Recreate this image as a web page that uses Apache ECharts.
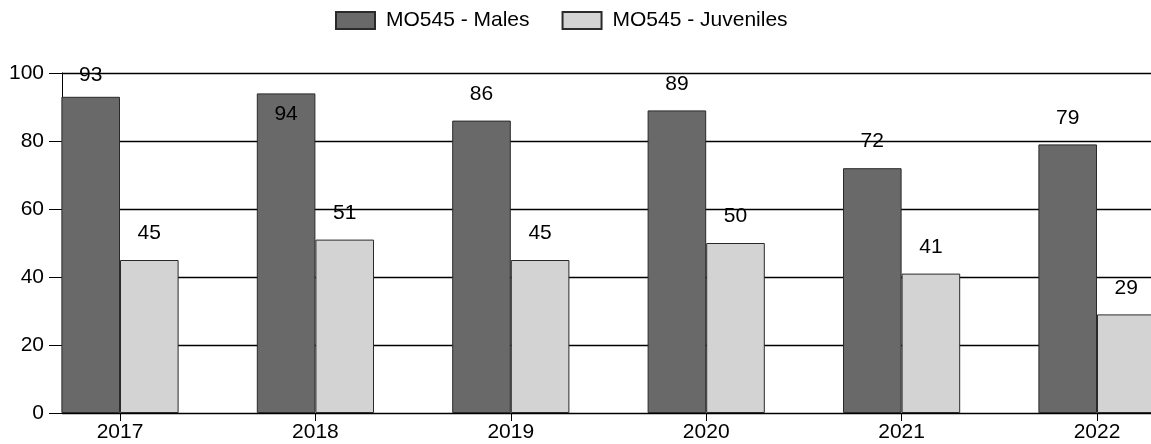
<!DOCTYPE html>
<html><head><meta charset="utf-8">
<script src="https://cdn.jsdelivr.net/npm/echarts@6/dist/echarts.min.js"></script>
<style>html,body{margin:0;padding:0;background:#fff}#c{width:1151px;height:444px}</style>
</head><body><div id="c"></div>
<script>
const categories = ['2017','2018','2019','2020','2021','2022'];
const males = [93, 94, 86, 89, 72, 79];
const juveniles = [45, 51, 45, 50, 41, 29];
const seriesNames = ['MO545 - Males', 'MO545 - Juveniles'];
const yTicks = [0, 20, 40, 60, 80, 100];

const FONT = 'Liberation Sans, Arial, sans-serif';
const chart = echarts.init(document.getElementById('c'), null, {renderer: 'canvas'});

const labelOffsets = {0: [0, 4.7], 1: [0, 47]};
const maleData = males.map((v, i) => labelOffsets[i] ? {value: v, label: {offset: labelOffsets[i]}} : v);

chart.setOption({
  animation: false,
  backgroundColor: '#fff',
  textStyle: {fontFamily: FONT},
  legend: {
    top: 10, left: 335, padding: 0,
    icon: 'rect',
    itemWidth: 39, itemHeight: 17, itemGap: 32,
    textStyle: {fontSize: 21, color: '#000', fontFamily: FONT, padding: [0, 0, 0, 6]},
    data: seriesNames
  },
  grid: [
    {left: 22.3, width: 1172.4, top: 73, bottom: 31, outerBoundsMode: 'none', containLabel: false},
    {left: 62, right: 0, top: 73, bottom: 31, outerBoundsMode: 'none', containLabel: false}
  ],
  xAxis: [
    {gridIndex: 0, type: 'category', data: categories,
     axisLine: {show: false},
     axisTick: {show: true, alignWithLabel: true, length: 8, lineStyle: {color: '#000', width: 1}},
     axisLabel: {fontSize: 21, color: '#000', margin: 9, fontFamily: FONT}},
    {gridIndex: 1, type: 'value', min: 0, max: 1,
     axisLine: {show: true, lineStyle: {color: '#000', width: 1}},
     axisTick: {show: false}, axisLabel: {show: false}, splitLine: {show: false}}
  ],
  yAxis: [
    {gridIndex: 0, type: 'value', min: 0, max: 100, interval: 20, show: false, splitLine: {show: false}},
    {gridIndex: 1, type: 'value', min: yTicks[0], max: yTicks[yTicks.length - 1], interval: 20,
     axisLine: {show: true, lineStyle: {color: '#000', width: 1}},
     axisTick: {show: true, length: 13, lineStyle: {color: '#000', width: 1}},
     axisLabel: {fontSize: 21, color: '#000', margin: 18, fontFamily: FONT},
     splitLine: {show: true, lineStyle: {color: '#000', width: 1.3}}}
  ],
  series: [
    {name: seriesNames[0], type: 'bar', xAxisIndex: 0, yAxisIndex: 0, data: maleData,
     barWidth: 58.6, barGap: '0%',
     itemStyle: {color: '#696969', borderColor: '#2a2a2a', borderWidth: 1},
     label: {show: true, position: 'top', distance: 16, fontSize: 21, color: '#000', fontFamily: FONT}},
    {name: seriesNames[1], type: 'bar', xAxisIndex: 0, yAxisIndex: 0, data: juveniles,
     barWidth: 58.6, barGap: '0%',
     itemStyle: {color: '#d3d3d3', borderColor: '#2a2a2a', borderWidth: 1},
     label: {show: true, position: 'top', distance: 16, fontSize: 21, color: '#000', fontFamily: FONT}}
  ]
});
</script></body></html>
